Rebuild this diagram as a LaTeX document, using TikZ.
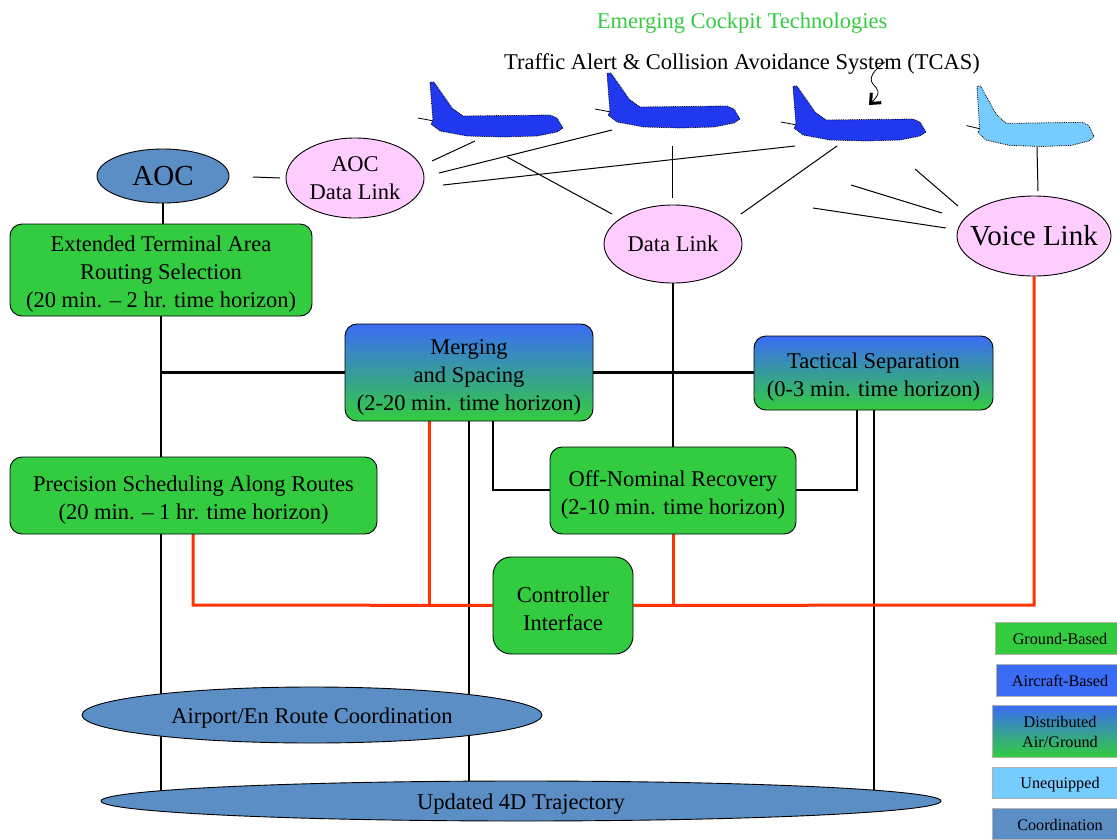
\documentclass[tikz,border=0pt]{standalone}
\usepackage{fontspec}
\setmainfont{Liberation Serif}
\usetikzlibrary{shapes.geometric,backgrounds,arrows.meta}
\definecolor{groundgreen}{HTML}{33CC40}
\definecolor{airblue}{HTML}{3B6CF5}
\definecolor{jetblue}{HTML}{2038F0}
\definecolor{skyblue}{HTML}{77CCFF}
\definecolor{coordblue}{HTML}{5B8EC4}
\definecolor{linkpink}{HTML}{FFCCFF}
\definecolor{redline}{HTML}{FF3300}
\newcommand\dropline[1]{\rule{0pt}{#1pt}}
\tikzset{
    txt/.style={font=\fontsize{22.5}{28}\selectfont, align=center, inner sep=0pt},
    groundbox/.style={txt, draw=black, line width=.9pt, fill=groundgreen, rounded corners=12pt},
    splitbox/.style={txt, draw=black, line width=.9pt, rounded corners=12pt, top color=airblue, bottom color=groundgreen},
    linkoval/.style={txt, ellipse, draw=black, line width=.9pt, fill=linkpink},
    coordoval/.style={txt, ellipse, draw=black, line width=.9pt, fill=coordblue},
    keybox/.style={font=\fontsize{16.2}{20}\selectfont, align=center, inner sep=0pt, draw=black!30, line width=.8pt},
    conn/.style={line width=2.4pt, black},
    redconn/.style={line width=3pt, redline},
    ray/.style={line width=1pt, black},
    jet/.pic={
        \draw[line width=.8pt, black] (-12,36)--(4,39);
        \draw[line width=.8pt, densely dotted, draw=black, fill=#1] (0,1)--(1,0)--(4,0)--(22,26)--(33,34)--(120,33)--(127,36)--(133,46)--(127,50)--(107,54)--(73,55)--(37,54)--(10,49)--(1,42)--(3,39)--cycle;
    }
}
\begin{document}
\begin{tikzpicture}[x=1pt, y=-1pt, >=latex]
    \useasboundingbox (0,0) rectangle (1117,839);

    \node[txt, text=groundgreen] (emerging) at (742,23) {Emerging Cockpit Technologies};
    \node[txt] (tcas) at (742,64) {Traffic Alert \& Collision Avoidance System (TCAS)};

    \pic at (430,82) {jet=jetblue};
    \pic at (607,73) {jet=jetblue};
    \pic at (793,86) {jet=jetblue};
    \pic[xscale=.88, yscale=1.1] at (977,86) {jet=skyblue};

    \node[coordoval, inner xsep=-2pt, minimum width=132pt, minimum height=54pt, font=\fontsize{29}{32}\selectfont] (aoc) at (163,176) {AOC};
    \node[linkoval, minimum width=138pt, minimum height=80pt] (aoclink) at (355,178) {AOC\\Data Link};
    \node[linkoval, minimum width=138pt, minimum height=78pt] (datalink) at (673,244) {Data Link};
    \node[linkoval, inner xsep=-12pt, minimum width=154pt, minimum height=80pt, font=\fontsize{29}{34}\selectfont] (voicelink) at (1034,236) {Voice Link};

    \node[groundbox, minimum width=302pt, minimum height=92pt] (extended) at (161,270) {\dropline{23}Extended Terminal Area\\Routing Selection\\(20 min. -- 2 hr. time horizon)};
    \node[splitbox, minimum width=248pt, minimum height=97pt] (merging) at (469,372.5) {\dropline{24}Merging\\and Spacing\\(2-20 min. time horizon)};
    \node[splitbox, minimum width=239pt, minimum height=74pt] (tactical) at (873.5,373) {\dropline{23}Tactical Separation\\(0-3 min. time horizon)};
    \node[groundbox, minimum width=367pt, minimum height=77pt] (precision) at (193.5,495.5) {\dropline{24}Precision Scheduling Along Routes\\(20 min. -- 1 hr. time horizon)};
    \node[groundbox, minimum width=246pt, minimum height=87pt] (offnominal) at (673,490.5) {\dropline{24}Off-Nominal Recovery\\(2-10 min. time horizon)};
    \node[groundbox, rounded corners=18pt, minimum width=140pt, minimum height=97pt] (controller) at (563,605.5) {\dropline{22}Controller\\Interface};
    \node[coordoval, minimum width=460pt, minimum height=56pt] (airport) at (312,715) {\dropline{22}Airport/En Route Coordination};
    \node[coordoval, minimum width=840pt, minimum height=40pt] (updated) at (521,801) {\dropline{22}Updated 4D Trajectory};

    % legend
    \node[keybox, fill=groundgreen, minimum width=122pt, minimum height=32pt] (keyground) at (1056,638) {\hspace*{8pt}\dropline{14}Ground-Based};
    \node[keybox, fill=airblue, minimum width=121pt, minimum height=32pt] (keyair) at (1056.5,680) {\hspace*{7pt}\dropline{13}Aircraft-Based};
    \node[keybox, top color=airblue, bottom color=groundgreen, minimum width=125pt, minimum height=52pt] (keydist) at (1054.5,731) {\hspace*{11pt}\dropline{14}Distributed\\\hspace*{11pt}Air/Ground};
    \node[keybox, fill=skyblue, minimum width=125pt, minimum height=31pt] (keyunequipped) at (1054.5,782.5) {\hspace*{11pt}\dropline{15}Unequipped};
    \node[keybox, fill=coordblue, minimum width=125pt, minimum height=31pt] (keycoord) at (1054.5,823.5) {\hspace*{11pt}\dropline{14}Coordination};

    \coordinate (wave) at (885,62);
    \coordinate (wavetip) at (869,105);
    \draw[line width=.8pt, -{Straight Barb[line width=3pt,length=8pt,width=14pt]}] (wave) .. controls (874,70) and (868,78) .. (873,84) .. controls (878,90) and (882,92) .. (wavetip);

    % plane rays
    \coordinate (a1) at (475,141); \coordinate (a2) at (432,161);
    \coordinate (b1) at (612,130); \coordinate (b2) at (439,173);
    \coordinate (c1) at (795,146); \coordinate (c2) at (443,185);
    \coordinate (d1) at (507,157); \coordinate (d2) at (612,214);
    \coordinate (e1) at (672,146); \coordinate (e2) at (672,198);
    \coordinate (f1) at (837,146); \coordinate (f2) at (741,214);
    \coordinate (g1) at (915,169); \coordinate (g2) at (958,206);
    \coordinate (h1) at (851,185); \coordinate (h2) at (942,213);
    \coordinate (i1) at (813,208); \coordinate (i2) at (946,228);
    \coordinate (j1) at (1037,147); \coordinate (j2) at (1038,191);
    \coordinate (k1) at (253,177); \coordinate (k2) at (280,178);
    \foreach \p in {a,b,c,d,e,f,g,h,i,j,k}
    {
        \draw[ray] (\p1)--(\p2);
    }

    \begin{scope}[on background layer]
        \draw[conn] (aoc.south)--(aoc.south |- extended.north);
        \draw[conn] (extended.south)--(extended.south |- updated);
        \draw[conn] (extended.south |- merging)--(merging);
        \draw[conn] (merging)--(merging -| tactical.west);
        \draw[conn] (datalink)--(offnominal);
        \draw[conn] (merging)--(merging |- updated);
        \draw[conn] (493,421)--(493,490)--(offnominal.west |- 0,490);
        \draw[conn] (857,410)--(857,490)--(offnominal.east |- 0,490);
        \draw[conn] (874,410)--(874,801);

        \draw[redconn] (429,421)--(429,605);
        \draw[redconn] (193,534)--(193,605)--(controller);
        \draw[redconn] (controller)--(1034,605)--(voicelink);
        \draw[redconn] (offnominal)--(offnominal |- controller);
    \end{scope}
\end{tikzpicture}
\end{document}
